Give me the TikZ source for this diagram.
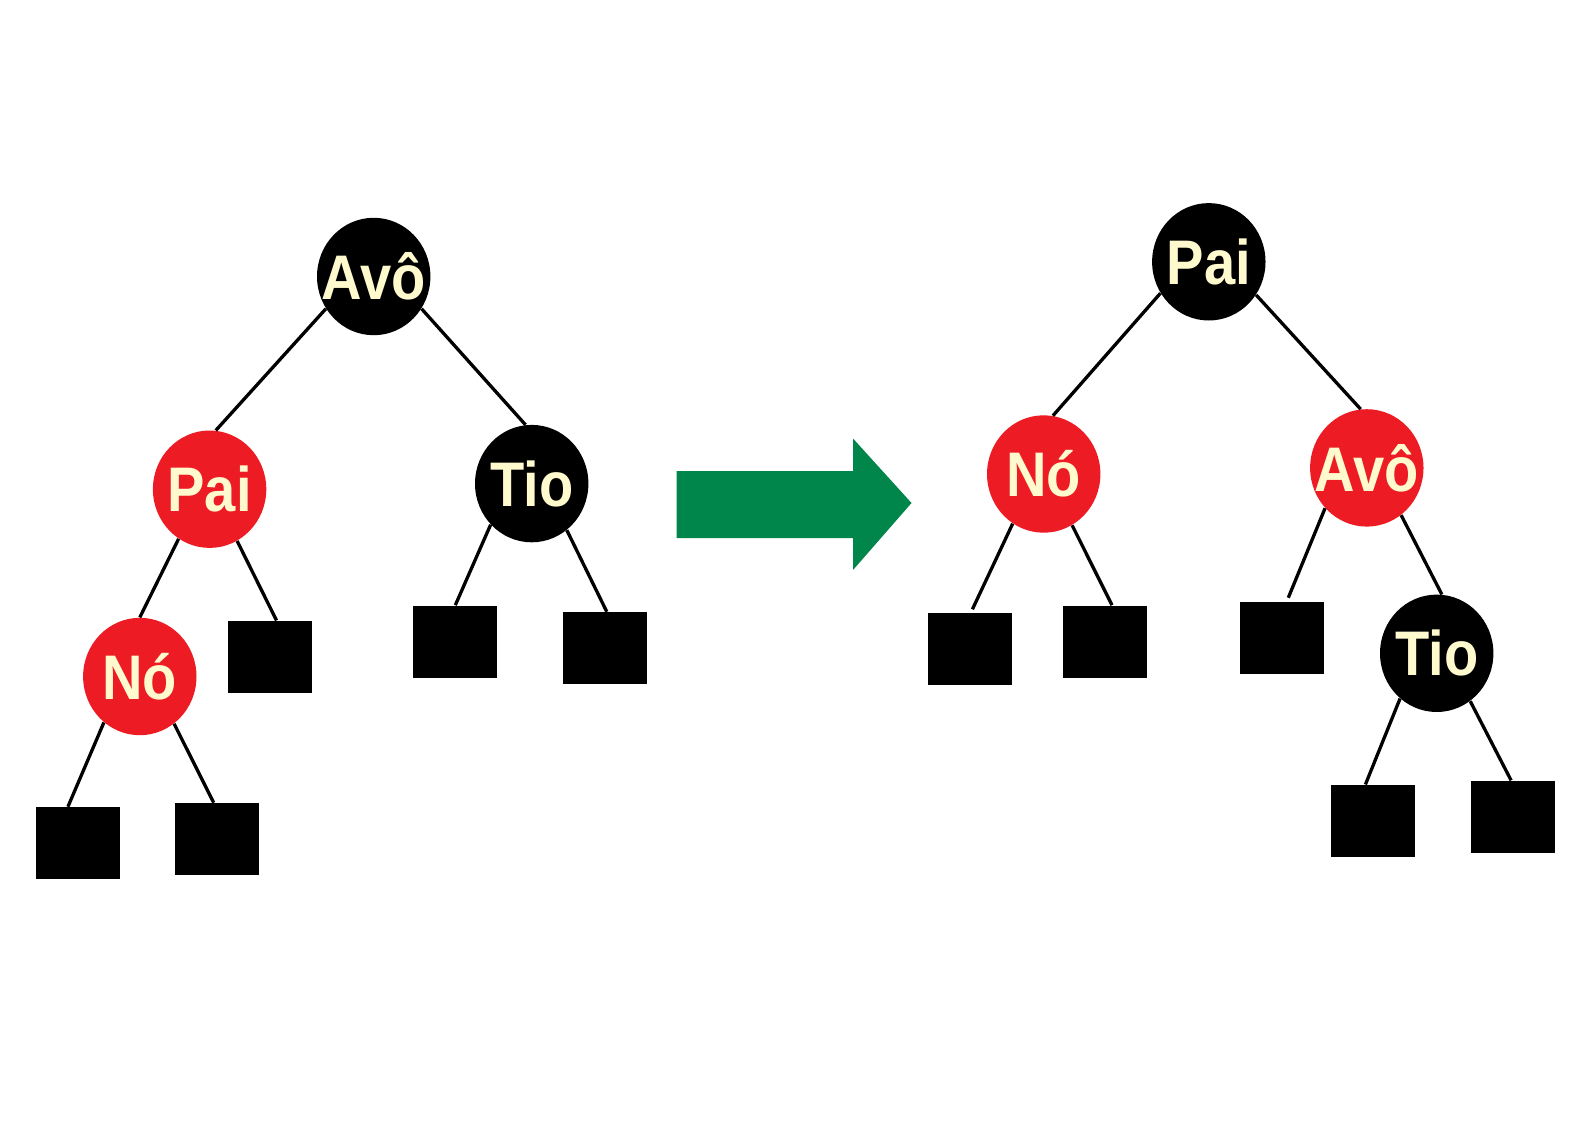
\documentclass[tikz,border=0pt]{standalone}
\usepackage{fontspec}
\setmainfont{Liberation Sans}
\usetikzlibrary{shapes.geometric}
\definecolor{rbred}{RGB}{237,28,36}
\definecolor{rbtext}{RGB}{255,250,205}
\definecolor{arrgreen}{RGB}{0,133,74}
\tikzset{
  rbnode/.style={ellipse, minimum width=56.7pt, minimum height=58.7pt, inner sep=0pt},
  blacknode/.style={rbnode, fill=black},
  rednode/.style={rbnode, fill=rbred},
  nodetext/.style={text=rbtext, font=\fontsize{31.5pt}{31.5pt}\selectfont\bfseries, inner sep=0pt},
  leaf/.style={rectangle, fill=black, minimum width=42pt, minimum height=36pt, inner sep=0pt},
  edge/.style={line width=1.65pt, black}
}
\newcommand{\lbl}[1]{\scalebox{0.89}[1]{#1}}
\begin{document}
\begin{tikzpicture}[x=0.5pt,y=-0.5pt]
\useasboundingbox (0,0) rectangle (1588,1123);
% left tree
\node[blacknode, label={[nodetext]center:\lbl{Avô}}] (avoL) at (373.7,276.5) {};
\node[rednode, label={[nodetext]center:\lbl{Pai}}] (paiL) at (209.6,489.2) {};
\node[blacknode, label={[nodetext]center:\lbl{Tio}}] (tioL) at (531.7,483.6) {};
\node[rednode, label={[nodetext]center:\lbl{Nó}}] (noL) at (139.8,676.5) {};
\node[leaf] (sq1) at (77.5,843.2) {};
\node[leaf] (sq2) at (216.7,839.1) {};
\node[leaf] (sq3) at (269.9,656.8) {};
\node[leaf] (sq4) at (455.3,641.6) {};
\node[leaf] (sq5) at (605.2,648.2) {};
\draw[edge] (avoL.214) -- (paiL.84);
\draw[edge] (avoL.326) -- (tioL.96);
\draw[edge] (paiL.238) -- (noL.90);
\draw[edge] (paiL.298) -- ([xshift=3.3pt]sq3.north);
\draw[edge] (noL.232) -- ([xshift=-4.8pt]sq1.north);
\draw[edge] (noL.306) -- ([xshift=-1.5pt]sq2.north);
\draw[edge] (tioL.225) -- (sq4.north);
\draw[edge] (tioL.307.6) -- ([xshift=0.8pt]sq5.north);
% arrow
\fill[arrgreen] (676.5,471) -- (853,471) -- (853,438.5) -- (911.5,503) -- (853,570) -- (853,538) -- (676.5,538) -- cycle;
% right tree
\node[blacknode, label={[nodetext]center:\lbl{Pai}}] (paiR) at (1208.8,261.8) {};
\node[rednode, label={[nodetext]center:\lbl{Nó}}] (noR) at (1043.7,474) {};
\node[rednode, label={[nodetext]center:\lbl{Avô}}] (avoR) at (1366.8,467.9) {};
\node[blacknode, label={[nodetext]center:\lbl{Tio}}] (tioR) at (1436.7,653.3) {};
\node[leaf] (sq6) at (969.8,648.7) {};
\node[leaf] (sq7) at (1105,641.6) {};
\node[leaf] (sq8) at (1281.7,638.1) {};
\node[leaf] (sq9) at (1373.4,820.9) {};
\node[leaf] (sq10) at (1513.1,816.8) {};
\draw[edge] (paiR.213.3) -- (noR.81.5);
\draw[edge] (paiR.325) -- (avoR.96.5);
\draw[edge] (noR.238.3) -- ([xshift=1.3pt,yshift=1.5pt]sq6.north);
\draw[edge] (noR.299) -- ([xshift=3.5pt]sq7.north);
\draw[edge] (avoR.224.7) -- ([xshift=3.3pt,yshift=2pt]sq8.north);
\draw[edge] (avoR.306.3) -- (tioR.85.5);
\draw[edge] (tioR.231.7) -- ([xshift=-4pt]sq9.north);
\draw[edge] (tioR.305.5) -- ([xshift=-1pt]sq10.north);
\end{tikzpicture}
\end{document}
